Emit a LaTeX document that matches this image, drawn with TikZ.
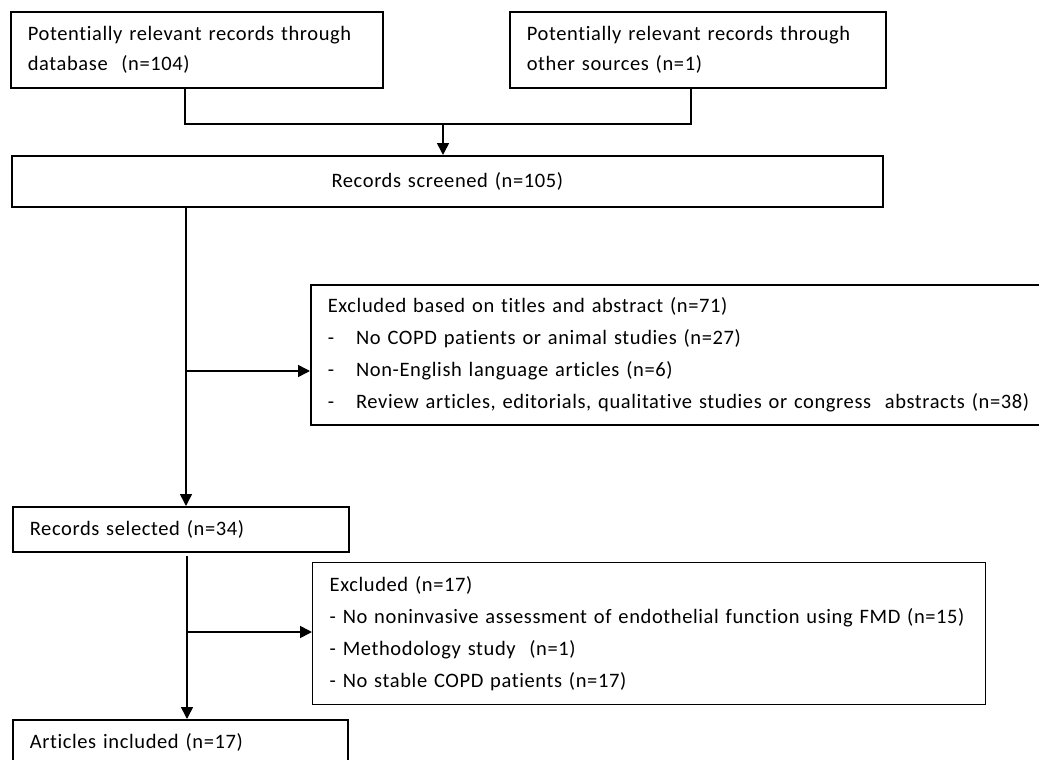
\documentclass[tikz,border=0pt]{standalone}
\usepackage{fontspec}
\setmainfont[Ligatures={NoCommon},LetterSpace=3]{Carlito}
\usetikzlibrary{arrows.meta}
\begin{document}
\begin{tikzpicture}[x=1pt,y=-1pt,
  every node/.style={font=\fontsize{20.5}{30}\selectfont},
  box/.style={draw, line width=1.6pt, inner xsep=17pt, inner ysep=0pt, anchor=north west, align=left},
  conn/.style={line width=1.6pt},
  arr/.style={line width=1.6pt, -{Triangle[length=12pt,width=12pt]}}]
\useasboundingbox[fill=white] (0,0) rectangle (1039,760);
% boxes
\node[box, text width=338pt, minimum height=76pt] (b1) at (10,11)
  {Potentially relevant records through\\database~~(n=104)};
\node[box, text width=342pt, minimum height=76pt] (b2) at (509,11)
  {Potentially relevant records through\\other sources (n=1)};
\node[box, text width=837pt, minimum height=51pt, align=center] (b3) at (11,155)
  {Records screened (n=105)};
\node[box, text width=698pt, minimum height=140pt, font=\fontsize{20.5}{31.7}\selectfont] (ex1) at (310,284)
  {Excluded based on titles and abstract (n=71)\\
   -\hspace{22pt}No COPD patients or animal studies (n=27)\\
   -\hspace{22pt}Non-English language articles (n=6)\\
   -\hspace{22pt}Review articles, editorials, qualitative studies or congress~~abstracts (n=38)};
\node[box, text width=302pt, minimum height=45pt] (sel) at (12,506)
  {Records selected (n=34)};
\node[box, line width=1.3pt, text width=639pt, minimum height=142pt, font=\fontsize{20.5}{32.3}\selectfont] (ex2) at (312,562)
  {Excluded (n=17)\\
   - No noninvasive assessment of endothelial function using FMD (n=15)\\
   - Methodology study~~(n=1)\\
   - No stable COPD patients (n=17)};
\node[box, text width=301pt, minimum height=45pt] (art) at (12,719)
  {Articles included (n=17)};
% connectors
\coordinate (j1) at (185,124);
\coordinate (j2) at (691,124);
\coordinate (m) at (443,124);
\draw[conn] (j1 |- b1.south) -- (j1) -- (j2) -- (j2 |- b2.south);
\draw[arr] (m) -- (m |- b3.north);
\coordinate (v1) at (186,371);
\draw[arr] (v1 |- b3.south) -- (v1 |- sel.north);
\draw[arr] (v1) -- (v1 -| ex1.west);
\coordinate (v2) at (187,632);
\coordinate (s2) at (187,556);
\draw[arr] (s2) -- (s2 |- art.north);
\draw[arr] (v2) -- (v2 -| ex2.west);
\end{tikzpicture}
\end{document}
